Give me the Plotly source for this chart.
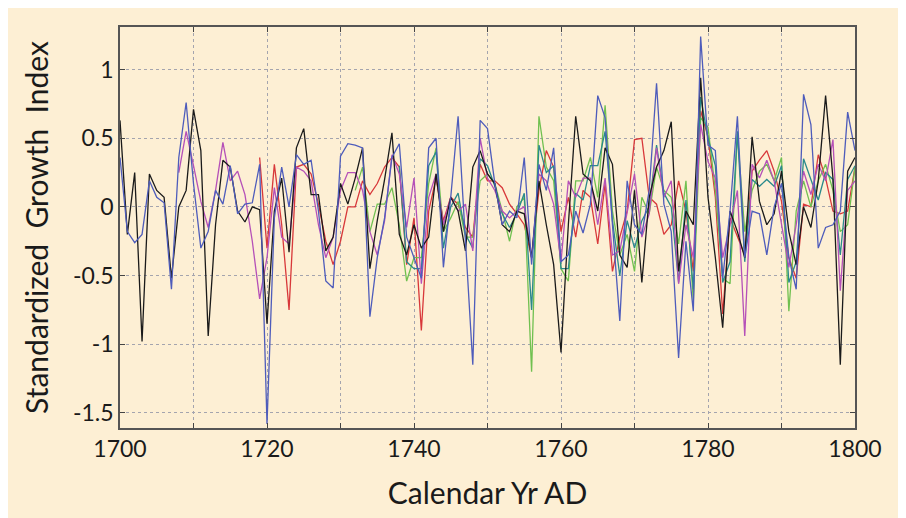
import plotly.graph_objects as go

years = list(range(1700, 1801))

black = [0.63, -0.20, 0.25, -0.98, 0.24, 0.12, 0.07, -0.52, 0.00, 0.12,
         0.71, 0.41, -0.94, -0.13, 0.34, 0.29, -0.03, -0.11, 0.00, -0.02,
         -0.85, -0.03, 0.21, -0.33, 0.43, 0.57, 0.09, 0.09, -0.32, -0.22,
         0.17, 0.02, 0.21, 0.43, -0.45, -0.10, 0.20, 0.54, -0.20, -0.35,
         -0.13, -0.30, -0.22, 0.24, -0.18, 0.07, -0.03, -0.32, 0.29, 0.41,
         0.24, 0.17, -0.13, -0.18, -0.03, -0.05, -0.37, 0.19, -0.13, -0.42,
         -1.06, -0.13, 0.66, 0.24, 0.19, -0.03, 0.43, 0.31, -0.35, -0.44,
         0.12, -0.55, 0.07, 0.29, 0.41, 0.62, -0.47, -0.03, -0.13, 0.94,
         0.07, -0.37, -0.88, -0.03, -0.18, -0.37, 0.51, 0.04, -0.13, -0.05,
         0.26, -0.18, -0.42, 0.00, -0.15, 0.19, 0.81, 0.21, -1.15, 0.26,
         0.36]

blue = [0.36, -0.18, -0.26, -0.20, 0.19, 0.07, 0.03, -0.60, 0.36, 0.76,
        0.17, -0.30, -0.18, 0.12, 0.02, 0.30, -0.05, 0.02, 0.03, 0.31,
        -1.58, -0.08, 0.29, 0.00, 0.38, 0.31, 0.34, -0.03, -0.54, -0.59,
        0.37, 0.46, 0.45, 0.43, -0.80, -0.37, -0.08, 0.36, 0.46, -0.22,
        -0.37, -0.52, 0.43, 0.50, -0.44, 0.07, 0.66, -0.22, -1.15, 0.63,
        0.57, 0.17, -0.13, -0.03, -0.08, 0.36, -0.42, 0.31, 0.12, 0.43,
        -0.40, -0.35, -0.03, -0.19, 0.02, 0.81, 0.65, -0.13, -0.83, 0.19,
        -0.13, -0.20, 0.12, 0.90, 0.02, -0.18, -1.10, -0.25, -0.76, 1.24,
        0.45, 0.41, -0.52, -0.03, 0.66, -0.37, -0.03, -0.05, -0.35, 0.00,
        0.17, -0.37, -0.60, 0.82, 0.60, -0.30, -0.15, -0.13, -0.03, 0.69,
        0.41]

magenta = [None, None, None, None, None, None, None, None, 0.25, 0.55,
           0.30, 0.04, -0.15, 0.12, 0.47, 0.19, 0.26, 0.09, -0.25, -0.67,
           -0.37, 0.14, -0.22, -0.27, 0.29, 0.26, 0.19, -0.13, -0.37, -0.22,
           0.12, 0.25, 0.25, 0.12, -0.18, -0.35, -0.10, 0.38, 0.24, -0.15,
           0.21, -0.56, 0.07, 0.24, -0.13, 0.07, -0.03, 0.02, -0.32, 0.50,
           0.21, 0.12, -0.03, -0.08, -0.03, 0.00, -0.37, 0.24, 0.19, 0.02,
           -0.40, 0.19, 0.07, 0.21, 0.21, -0.13, 0.21, -0.35, -0.32, -0.05,
           0.24, -0.22, -0.05, 0.43, 0.07, 0.19, -0.56, -0.13, -0.37, 0.60,
           0.33, 0.21, -0.37, -0.13, 0.12, -0.94, 0.31, 0.21, 0.34, 0.19,
           -0.13, -0.44, -0.13, 0.26, 0.09, 0.31, 0.19, 0.49, -0.61, 0.12,
           0.19]

red = [None] * 19 + [
    0.36,
    -0.30, 0.31, -0.13, -0.75, 0.29, 0.31, 0.24, 0.02, -0.25, -0.42,
    -0.25, 0.00, 0.00, 0.19, 0.09, 0.17, 0.29, 0.36, 0.29, -0.42,
    -0.08, -0.90, -0.03, 0.21, -0.10, 0.07, 0.02, -0.15, -0.22, 0.31,
    0.19, 0.19, 0.14, 0.02, -0.05, -0.13, -0.37, 0.12, 0.41, 0.29,
    -0.18, 0.07, -0.22, 0.12, 0.07, -0.27, 0.17, -0.47, -0.22, -0.03,
    0.49, 0.50, 0.07, 0.02, -0.20, -0.13, 0.19, -0.03, -0.47, 0.70,
    0.51, 0.07, -0.78, -0.08, -0.22, -0.35, 0.26, 0.34, 0.41, 0.26,
    0.04, -0.37, -0.52, 0.02, 0.00, 0.38, 0.21, -0.03, -0.05, -0.03,
    0.29]

green = [None] * 32 + [
    0.12, 0.29, -0.18, 0.02, 0.02, 0.14, -0.13, -0.54,
    -0.37, -0.37, 0.17, 0.43, -0.18, -0.08, 0.04, -0.22, -0.22, 0.19,
    0.24, 0.17, -0.03, -0.25, 0.00, 0.07, -1.20, 0.66, 0.29, 0.19,
    -0.45, -0.54, 0.19, 0.19, 0.36, 0.07, 0.74, -0.03, -0.35, -0.20,
    -0.47, 0.07, -0.05, 0.29, 0.12, 0.07, -0.27, 0.19, -0.69, 0.65,
    0.58, 0.12, -0.52, -0.56, 0.53, -0.18, 0.12, 0.26, 0.31, 0.19,
    0.36, -0.76, -0.03, 0.19, 0.00, 0.19, 0.31, 0.12, -0.18, -0.13,
    0.29]

teal = [None] * 38 + [
    0.30, -0.40,
    -0.45, -0.45, 0.30, 0.40, -0.30, 0.00, 0.10, -0.20, -0.30, 0.35,
    0.30, 0.15, -0.05, -0.15, -0.05, 0.10, -0.75, 0.45, 0.25, 0.30,
    -0.45, -0.45, 0.10, 0.05, 0.30, 0.30, 0.55, -0.10, -0.50, -0.10,
    -0.30, -0.10, 0.00, 0.45, 0.10, 0.00, -0.55, 0.05, -0.60, 0.80,
    0.50, 0.30, -0.55, -0.40, 0.55, -0.40, 0.20, 0.15, 0.20, 0.15,
    0.30, -0.55, -0.40, 0.35, 0.20, 0.05, 0.25, 0.20, -0.35, 0.20,
    0.30]

series = [
    ("Red", red, "#d8383a"),
    ("Green", green, "#70c050"),
    ("Teal", teal, "#2a8a8c"),
    ("Magenta", magenta, "#b550b8"),
    ("Black", black, "#1a1a1a"),
    ("Blue", blue, "#4e5cbb"),
]

x_tickvals = list(range(1700, 1801, 10))
x_ticktext = [str(v) if (v - 1700) % 20 == 0 else "" for v in x_tickvals]
y_tickvals = [-1.5, -1, -0.5, 0, 0.5, 1]
y_ticktext = ["-1.5", "-1", "-0.5", "0", "0.5", "1"]

bg = "#fdefd4"
font_family = "Lato, 'Open Sans', sans-serif"

fig = go.Figure()
for name, vals, color in series:
    fig.add_trace(go.Scatter(x=years, y=vals, mode="lines", name=name,
                             line=dict(color=color, width=1.3),
                             connectgaps=False))

fig.update_layout(
    width=906, height=518,
    margin=dict(l=112, r=59, t=19, b=98),
    paper_bgcolor=bg, plot_bgcolor=bg,
    showlegend=False,
    font=dict(family=font_family, color="#1a1a1a"),
)
fig.update_xaxes(
    range=[1700, 1800], tickvals=x_tickvals, ticktext=x_ticktext,
    ticks="inside", ticklen=5, tickcolor="#444", mirror="ticks",
    showline=True, linecolor="#555", linewidth=1.5,
    showgrid=True, gridcolor="#a4a4ae", griddash="dot", gridwidth=1,
    zeroline=False, tickfont=dict(size=23),
    title=dict(text="Calendar Yr AD", font=dict(size=30), standoff=22),
)
fig.update_yaxes(
    range=[-1.61, 1.31], tickvals=y_tickvals, ticktext=y_ticktext,
    ticks="inside", ticklen=5, tickcolor="#444", mirror="ticks",
    showline=True, linecolor="#555", linewidth=1.5,
    showgrid=True, gridcolor="#a4a4ae", griddash="dot", gridwidth=1,
    zeroline=False, tickfont=dict(size=23),
    title=dict(text="Standardized  Growth  Index", font=dict(size=30), standoff=15),
)

fig.write_html("out.html")
